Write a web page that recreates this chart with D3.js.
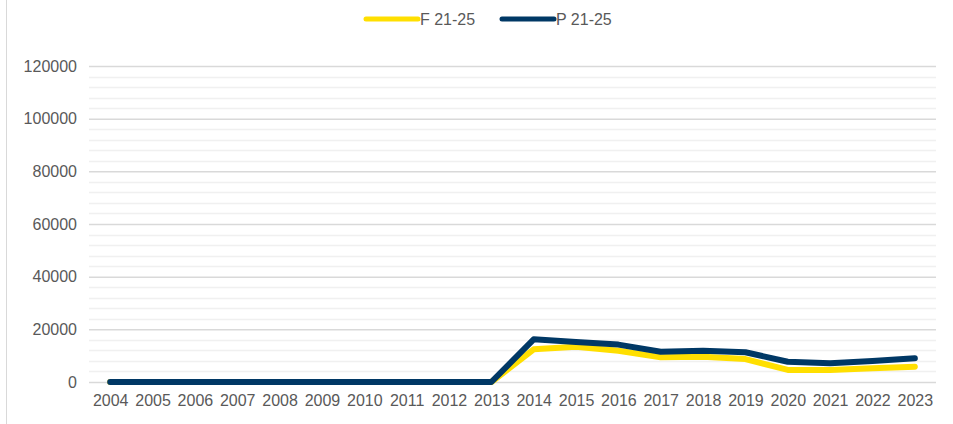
<!DOCTYPE html>
<html>
<head>
<meta charset="utf-8">
<script src="https://cdn.jsdelivr.net/npm/d3@7"></script>
<style>
  body { margin: 0; background: #fff; }
  text { font-family: "Liberation Sans", Arial, sans-serif; fill: #595959; }
</style>
</head>
<body>
<svg id="chart" width="953" height="424"></svg>
<script>
// data
var years = ["2004","2005","2006","2007","2008","2009","2010","2011","2012","2013",
             "2014","2015","2016","2017","2018","2019","2020","2021","2022","2023"];
var fValues = [0,0,0,0,0,0,0,0,0,0, 12400,13400,11900,9400,9600,8700,4600,4600,5200,5800];
var pValues = [0,0,0,0,0,0,0,0,0,0, 16200,15200,14200,11500,11900,11300,7700,7100,8000,9000];
var seriesNames = ["F 21-25", "P 21-25"];
var seriesColors = ["#FFDF00", "#003865"];
var yTicks = [0, 20000, 40000, 60000, 80000, 100000, 120000];

var svg = d3.select("#chart");
var margin = { left: 89, right: 17, top: 66, bottom: 42 };
var W = 953, H = 424;
var fontSize = "16px";

// frame line on the left
svg.append("line")
    .attr("x1", 6.5).attr("x2", 6.5)
    .attr("y1", 0).attr("y2", H)
    .attr("stroke", "#d9d9d9").attr("stroke-width", 1);

var x = d3.scalePoint()
    .domain(years)
    .range([margin.left, W - margin.right])
    .padding(0.5);

var y = d3.scaleLinear()
    .domain([0, 120000])
    .range([H - margin.bottom, margin.top]);

// minor gridlines
svg.append("g")
    .selectAll("line")
    .data(d3.range(0, 120001, 4000).filter(function(v) { return v % 20000 !== 0; }))
    .enter().append("line")
        .attr("x1", margin.left).attr("x2", W - margin.right)
        .attr("y1", function(d) { return Math.round(y(d)) + 0.5; })
        .attr("y2", function(d) { return Math.round(y(d)) + 0.5; })
        .attr("stroke", "#f0f0f0").attr("stroke-width", 1.5);

// major gridlines + y labels
var yAxis = d3.axisLeft(y)
    .tickValues(yTicks)
    .tickSize(-(W - margin.left - margin.right))
    .tickPadding(12)
    .tickFormat(d3.format("d"));

var yg = svg.append("g")
    .attr("transform", "translate(" + margin.left + ",0)")
    .call(yAxis);
yg.select(".domain").remove();
yg.attr("font-size", null).attr("font-family", null);
yg.selectAll(".tick line").attr("stroke", "#d9d9d9").attr("stroke-width", 1.5);
yg.selectAll(".tick text").style("font-size", fontSize).attr("fill", "#595959");

// x labels
var xAxis = d3.axisBottom(x).tickSize(0).tickPadding(13);
var xg = svg.append("g")
    .attr("transform", "translate(0," + (H - margin.bottom) + ")")
    .call(xAxis);
xg.select(".domain").remove();
xg.attr("font-size", null).attr("font-family", null);
xg.selectAll(".tick text").style("font-size", fontSize).attr("fill", "#595959");

// lines
var line = d3.line()
    .x(function(d, i) { return x(years[i]); })
    .y(function(d) { return y(d); });

[fValues, pValues].forEach(function(vals, k) {
    svg.append("path")
        .datum(vals)
        .attr("d", line)
        .attr("fill", "none")
        .attr("stroke", seriesColors[k])
        .attr("stroke-width", 6)
        .attr("stroke-linecap", "round")
        .attr("stroke-linejoin", "round");
});

// legend
var legendX = [366, 502];
seriesNames.forEach(function(name, k) {
    var g = svg.append("g").attr("transform", "translate(" + legendX[k] + ",19)");
    g.append("line")
        .attr("x1", 0).attr("x2", 52)
        .attr("stroke", seriesColors[k])
        .attr("stroke-width", 5)
        .attr("stroke-linecap", "round");
    g.append("text")
        .attr("x", 54).attr("y", 5.5)
        .style("font-size", fontSize)
        .text(name);
});
</script>
</body>
</html>
